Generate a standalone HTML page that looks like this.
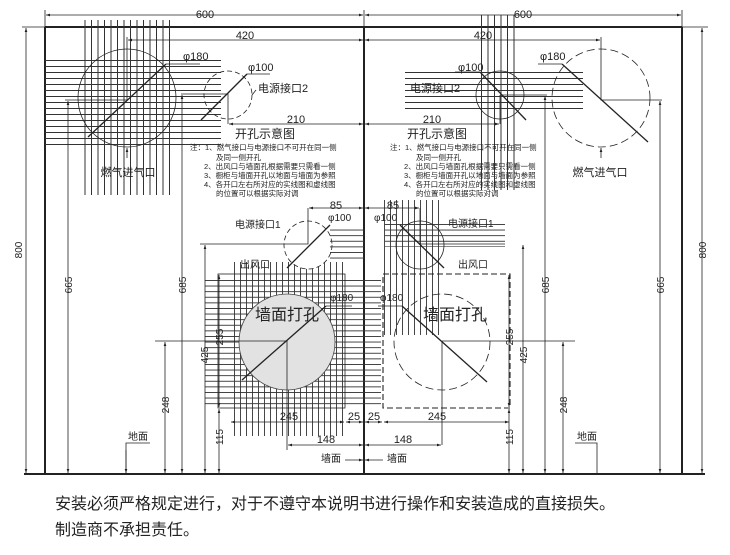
<!DOCTYPE html>
<html><head><meta charset="utf-8"><style>
html,body{margin:0;padding:0;background:#fff;}
svg{display:block;font-family:"Liberation Sans","Noto Sans CJK SC",sans-serif;}
</style></head><body>
<svg width="730" height="555" viewBox="0 0 730 555" xmlns="http://www.w3.org/2000/svg">
<defs>
<pattern id="pv" width="6.5" height="10" patternUnits="userSpaceOnUse"><rect x="0" y="0" width="1" height="10" fill="#333"/></pattern>
<pattern id="ph" width="10" height="6" patternUnits="userSpaceOnUse"><rect x="0" y="0" width="10" height="1" fill="#333"/></pattern>
<pattern id="ph2" width="10" height="5.6" patternUnits="userSpaceOnUse"><rect x="0" y="0" width="10" height="0.9" fill="#333"/></pattern>
<pattern id="pv2" width="6" height="10" patternUnits="userSpaceOnUse"><rect x="0" y="0" width="0.9" height="10" fill="#333"/></pattern>
<marker id="a" viewBox="0 0 6 6" refX="6" refY="3" markerWidth="5" markerHeight="5" orient="auto-start-reverse"><path d="M0,1 L6,3 L0,5z" fill="#222"/></marker>
</defs>
<g stroke="#222" fill="none" stroke-width="0.8">
<path d="M45,27 H682 M45,27 V474 M364,27 V474 M682,27 V474" stroke-width="2"/>
<path d="M24,474 H705" stroke-width="2"/>
<path d="M45,10 V27 M364,10 V27 M682,10 V27"/>
<line x1="46" y1="15" x2="363" y2="15" marker-start="url(#a)" marker-end="url(#a)"/>
<line x1="365" y1="15" x2="681" y2="15" marker-start="url(#a)" marker-end="url(#a)"/>
<path d="M22,27 H45 M682,27 H708"/>
<line x1="26" y1="28" x2="26" y2="473" marker-start="url(#a)" marker-end="url(#a)"/>
<line x1="702" y1="28" x2="702" y2="473" marker-start="url(#a)" marker-end="url(#a)"/>

<rect x="82" y="20" width="90" height="175" fill="url(#pv)" stroke="none"/>
<rect x="45" y="57" width="176" height="88" fill="url(#ph)" stroke="none"/>
<circle cx="127" cy="98" r="49"/>
<line x1="88" y1="137" x2="166" y2="64" stroke-width="1.3"/>
<line x1="166" y1="64" x2="200" y2="64"/>
<path d="M127,37 V100 M65,100 H127"/>
<line x1="68" y1="101" x2="68" y2="473" marker-start="url(#a)" marker-end="url(#a)"/>
<line x1="128" y1="40" x2="363" y2="40" marker-start="url(#a)" marker-end="url(#a)"/>
<line x1="127" y1="148" x2="127" y2="158" marker-start="url(#a)"/>
<circle cx="228" cy="95" r="24" stroke-dasharray="5,3"/>
<line x1="201" y1="120" x2="247" y2="74" stroke-width="1.3"/>
<line x1="247" y1="74" x2="270" y2="74"/>
<path d="M181,94 H228 V124"/>
<line x1="182" y1="95" x2="182" y2="473" marker-start="url(#a)" marker-end="url(#a)"/>
<line x1="229" y1="124" x2="363" y2="124" marker-start="url(#a)" marker-end="url(#a)"/>
<path d="M252,95 L256,90"/>

<rect x="230" y="262" width="116" height="174" fill="url(#pv2)" stroke="none"/>
<rect x="205" y="278" width="176" height="128" fill="url(#ph2)" stroke="none"/>
<rect x="218" y="274" width="127" height="134"/>
<circle cx="287" cy="342" r="48" fill="#e2e2e2" stroke="#444"/>
<line x1="242" y1="380" x2="326" y2="306" stroke-width="1.3"/>
<line x1="326" y1="306" x2="352" y2="306"/>
<path d="M155,341 H287 V450"/>
<circle cx="308" cy="245" r="24" stroke-dasharray="5,3" fill="#fff"/>
<rect x="330" y="228" width="34" height="35" fill="url(#ph2)" stroke="none"/>
<line x1="287" y1="268" x2="330" y2="225" stroke-width="1.3"/>
<path d="M200,244 H308 V208"/>
<line x1="309" y1="208" x2="363" y2="208" marker-start="url(#a)" marker-end="url(#a)"/>
<line x1="205" y1="245" x2="205" y2="473" marker-start="url(#a)" marker-end="url(#a)"/>
<line x1="165" y1="342" x2="165" y2="473" marker-start="url(#a)" marker-end="url(#a)"/>
<line x1="219" y1="275" x2="219" y2="407" marker-start="url(#a)" marker-end="url(#a)"/>
<line x1="219" y1="409" x2="219" y2="473" marker-start="url(#a)" marker-end="url(#a)"/>
<line x1="231" y1="422" x2="344" y2="422" marker-start="url(#a)" marker-end="url(#a)"/>
<line x1="346" y1="422" x2="363" y2="422" marker-start="url(#a)" marker-end="url(#a)"/>
<line x1="288" y1="445" x2="363" y2="445" marker-start="url(#a)" marker-end="url(#a)"/>
<line x1="345" y1="460" x2="363" y2="460" marker-end="url(#a)"/>
<path d="M126,474 V443 H150"/>
<line x1="126" y1="450" x2="126" y2="473" marker-end="url(#a)"/>

<rect x="476" y="15" width="43" height="175" fill="url(#pv)" stroke="none"/>
<rect x="405" y="72" width="178" height="42" fill="url(#ph)" stroke="none"/>
<circle cx="500" cy="95" r="24"/>
<line x1="480" y1="72" x2="526" y2="120" stroke-width="1.3"/>
<line x1="455" y1="72" x2="480" y2="72"/>
<path d="M500,95 H547 M500,95 V124"/>
<line x1="365" y1="124" x2="499" y2="124" marker-start="url(#a)" marker-end="url(#a)"/>
<line x1="545" y1="96" x2="545" y2="473" marker-start="url(#a)" marker-end="url(#a)"/>
<circle cx="601" cy="98" r="49" stroke-dasharray="8,4"/>
<line x1="562" y1="64" x2="648" y2="142" stroke-width="1.3"/>
<line x1="538" y1="64" x2="562" y2="64"/>
<path d="M601,37 V100 H662"/>
<line x1="365" y1="40" x2="600" y2="40" marker-start="url(#a)" marker-end="url(#a)"/>
<line x1="660" y1="101" x2="660" y2="473" marker-start="url(#a)" marker-end="url(#a)"/>
<line x1="601" y1="148" x2="601" y2="158" marker-start="url(#a)"/>

<rect x="382" y="200" width="60" height="135" fill="url(#pv2)" stroke="none"/>
<rect x="385" y="222" width="120" height="25" fill="url(#ph2)" stroke="none"/>
<rect x="383" y="274" width="127" height="134" stroke-dasharray="6,3" stroke-width="1.1"/>
<circle cx="442" cy="342" r="48" stroke-dasharray="8,4"/>
<line x1="402" y1="306" x2="487" y2="382" stroke-width="1.3"/>
<line x1="378" y1="306" x2="402" y2="306"/>
<path d="M442,341 H575 M442,341 V445"/>
<circle cx="420" cy="245" r="24"/>
<line x1="400" y1="225" x2="444" y2="268" stroke-width="1.3"/>
<path d="M420,244 H505 M420,244 V208"/>
<line x1="365" y1="208" x2="419" y2="208" marker-start="url(#a)" marker-end="url(#a)"/>
<line x1="523" y1="245" x2="523" y2="473" marker-start="url(#a)" marker-end="url(#a)"/>
<line x1="563" y1="342" x2="563" y2="473" marker-start="url(#a)" marker-end="url(#a)"/>
<line x1="509" y1="275" x2="509" y2="407" marker-start="url(#a)" marker-end="url(#a)"/>
<line x1="509" y1="409" x2="509" y2="473" marker-start="url(#a)" marker-end="url(#a)"/>
<line x1="384" y1="422" x2="509" y2="422" marker-start="url(#a)" marker-end="url(#a)"/>
<line x1="365" y1="422" x2="382" y2="422" marker-start="url(#a)" marker-end="url(#a)"/>
<line x1="365" y1="445" x2="441" y2="445" marker-start="url(#a)" marker-end="url(#a)"/>
<line x1="383" y1="460" x2="365" y2="460" marker-end="url(#a)"/>
<path d="M597,474 V443 H575"/>
</g>

<g fill="#222" font-size="11" text-anchor="middle">
<text x="205" y="18">600</text>
<text x="523" y="18">600</text>
<text x="245" y="39">420</text>
<text x="483" y="39">420</text>
<text x="296" y="123">210</text>
<text x="432" y="123">210</text>
<text x="183" y="60" text-anchor="start">φ180</text>
<text x="248" y="71" text-anchor="start">φ100</text>
<text x="258" y="92" text-anchor="start">电源接口2</text>
<text x="128" y="176">燃气进气口</text>
<text x="458" y="71" text-anchor="start">φ100</text>
<text x="410" y="92" text-anchor="start">电源接口2</text>
<text x="540" y="60" text-anchor="start">φ180</text>
<text x="600" y="176">燃气进气口</text>
<text x="265" y="138" font-size="12">开孔示意图</text>
<text x="437" y="138" font-size="12">开孔示意图</text>
<text x="336" y="209">85</text>
<text x="393" y="209">85</text>
<text x="328" y="221" text-anchor="start" font-size="10">φ100</text>
<text x="374" y="221" text-anchor="start" font-size="10">φ100</text>
<text x="235" y="228" text-anchor="start" font-size="10">电源接口1</text>
<text x="448" y="227" text-anchor="start" font-size="10">电源接口1</text>
<text x="240" y="268" text-anchor="start" font-size="10">出风口</text>
<text x="458" y="268" text-anchor="start" font-size="10">出风口</text>
<text x="330" y="301" text-anchor="start" font-size="10">φ180</text>
<text x="380" y="301" text-anchor="start" font-size="10">φ180</text>
<text x="287" y="320" font-size="16">墙面打孔</text>
<text x="455" y="320" font-size="16">墙面打孔</text>
<text x="289" y="420">245</text>
<text x="437" y="420">245</text>
<text x="354" y="420">25</text>
<text x="374" y="420">25</text>
<text x="326" y="443">148</text>
<text x="403" y="443">148</text>
<text x="331" y="462" font-size="10">墙面</text>
<text x="397" y="462" font-size="10">墙面</text>
<text x="138" y="440" font-size="10">地面</text>
<text x="587" y="440" font-size="10">地面</text>
</g>
<g fill="#222" font-size="10" text-anchor="middle">
<text transform="translate(22,250) rotate(-90)">800</text>
<text transform="translate(706,250) rotate(-90)">800</text>
<text transform="translate(72,285) rotate(-90)">665</text>
<text transform="translate(186,285) rotate(-90)">685</text>
<text transform="translate(169,405) rotate(-90)">248</text>
<text transform="translate(208,355) rotate(-90)">425</text>
<text transform="translate(223,337) rotate(-90)">255</text>
<text transform="translate(223,437) rotate(-90)">115</text>
<text transform="translate(549,285) rotate(-90)">685</text>
<text transform="translate(664,285) rotate(-90)">665</text>
<text transform="translate(567,405) rotate(-90)">248</text>
<text transform="translate(527,355) rotate(-90)">425</text>
<text transform="translate(513,337) rotate(-90)">255</text>
<text transform="translate(513,437) rotate(-90)">115</text>
</g>
<g fill="#222" font-size="7.5">
<text x="190" y="150">注：1、燃气接口与电源接口不可开在同一侧</text>
<text x="216" y="160">及同一侧开孔</text>
<text x="204" y="169">2、出风口与墙面孔根据需要只需看一侧</text>
<text x="204" y="178">3、橱柜与墙面开孔以地面与墙面为参照</text>
<text x="204" y="187">4、各开口左右所对应的实线图和虚线图</text>
<text x="216" y="196">的位置可以根据实际对调</text>
<text x="390" y="150">注：1、燃气接口与电源接口不可开在同一侧</text>
<text x="416" y="160">及同一侧开孔</text>
<text x="404" y="169">2、出风口与墙面孔根据需要只需看一侧</text>
<text x="404" y="178">3、橱柜与墙面开孔以地面与墙面为参照</text>
<text x="404" y="187">4、各开口左右所对应的实线图和虚线图</text>
<text x="416" y="196">的位置可以根据实际对调</text>
</g>
<g fill="#222" font-size="16">
<text x="55" y="509">安装必须严格规定进行，对于不遵守本说明书进行操作和安装造成的直接损失。</text>
<text x="55" y="535">制造商不承担责任。</text>
</g>
</svg>
</body></html>
